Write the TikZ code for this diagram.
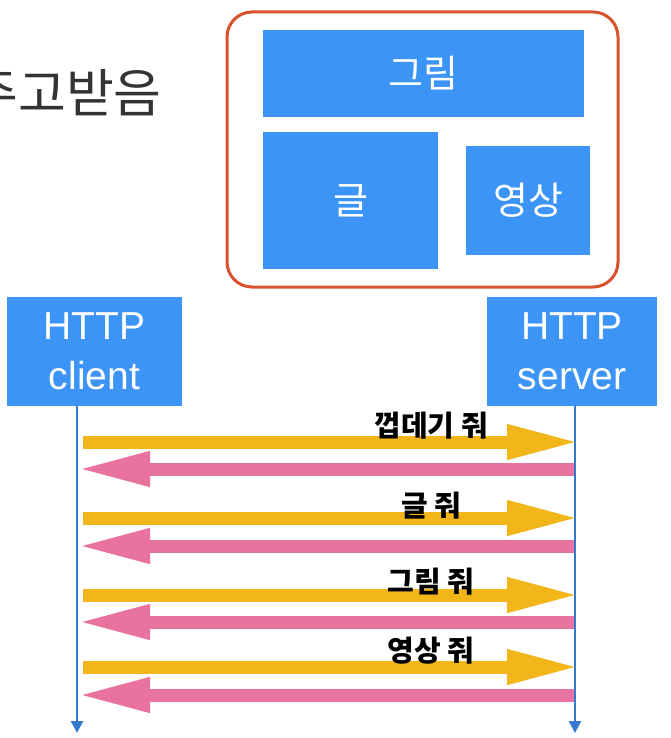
\documentclass[tikz,border=0pt]{standalone}
\usepackage{fontspec}
\setmainfont{Liberation Sans}
\newfontfamily\krfont{Noto Sans CJK KR}
\usetikzlibrary{arrows.meta}

\definecolor{boxblue}{HTML}{3B94F6}
\definecolor{lineblue}{HTML}{3479CF}
\definecolor{frameorange}{HTML}{D8532D}
\definecolor{reqyellow}{HTML}{F2B61A}
\definecolor{respink}{HTML}{E9739F}
\definecolor{titlegray}{HTML}{333333}

\begin{document}
\begin{tikzpicture}[
  x=0.5pt, y=-0.5pt,
  blkbox/.style={fill=boxblue, inner sep=0pt, text=white, font=\krfont\fontsize{19}{22}\selectfont},
  hostbox/.style={fill=boxblue, inner sep=0pt, text=white, align=center, font=\fontsize{19.5}{25}\selectfont},
  lifeline/.style={draw=lineblue, line width=1.2pt, -{Triangle[length=6pt, width=6pt]}},
  reqmsg/.style={draw=reqyellow, line width=6.5pt, -{Triangle[length=36.5pt, width=16pt]}},
  resmsg/.style={draw=respink, line width=6.5pt, -{Triangle[length=36.5pt, width=16pt]}},
  msglabel/.style={inner sep=0pt, font=\krfont\bfseries\fontsize{14.5}{16}\selectfont}
]
  \clip (0,0) rectangle (670,738);

  % title, cut off at the left edge
  \node[anchor=west, inner sep=0pt, text=titlegray, font=\krfont\fontsize{26}{29}\selectfont] (title) at (-30,93) {주고받음};

  % web page made of parts
  \draw[frameorange, line width=1.5pt, rounded corners=12.5pt] (227,12) rectangle (618,287);
  \node[blkbox, minimum width=160.5pt, minimum height=43.5pt] (pic) at (423.5,73.5) {그림};
  \node[blkbox, minimum width=87.5pt, minimum height=68.5pt] (txt) at (350.5,200.5) {글};
  \node[blkbox, minimum width=62pt, minimum height=54.5pt] (vid) at (528,200.5) {영상};

  % hosts
  \node[hostbox, minimum width=87.5pt, minimum height=54.5pt] (client) at (94.5,351.5) {HTTP\\client};
  \node[hostbox, minimum width=85pt, minimum height=54.5pt] (server) at (572,351.5) {HTTP\\server};

  \coordinate (cend) at (77,733);
  \coordinate (send) at (575,733);
  \draw[lifeline] (cend |- client.south) -- (cend);
  \draw[lifeline] (send |- server.south) -- (send);

  % request / response pairs
  \foreach \i/\ry/\py/\ly/\txt in {1/442/469/426/껍데기 줘, 2/518/546/506/글 줘, 3/595/622/582/그림 줘, 4/667/695/651/영상 줘}{
    \coordinate (cq\i) at (83,\ry);
    \coordinate (sq\i) at (580,\ry);
    \coordinate (cp\i) at (77,\py);
    \coordinate (sp\i) at (574,\py);
    \draw[reqmsg] (cq\i) -- (sq\i);
    \draw[resmsg] (sp\i) -- (cp\i);
    \node[msglabel] (lbl\i) at (431,\ly) {\txt};
  }
\end{tikzpicture}
\end{document}
